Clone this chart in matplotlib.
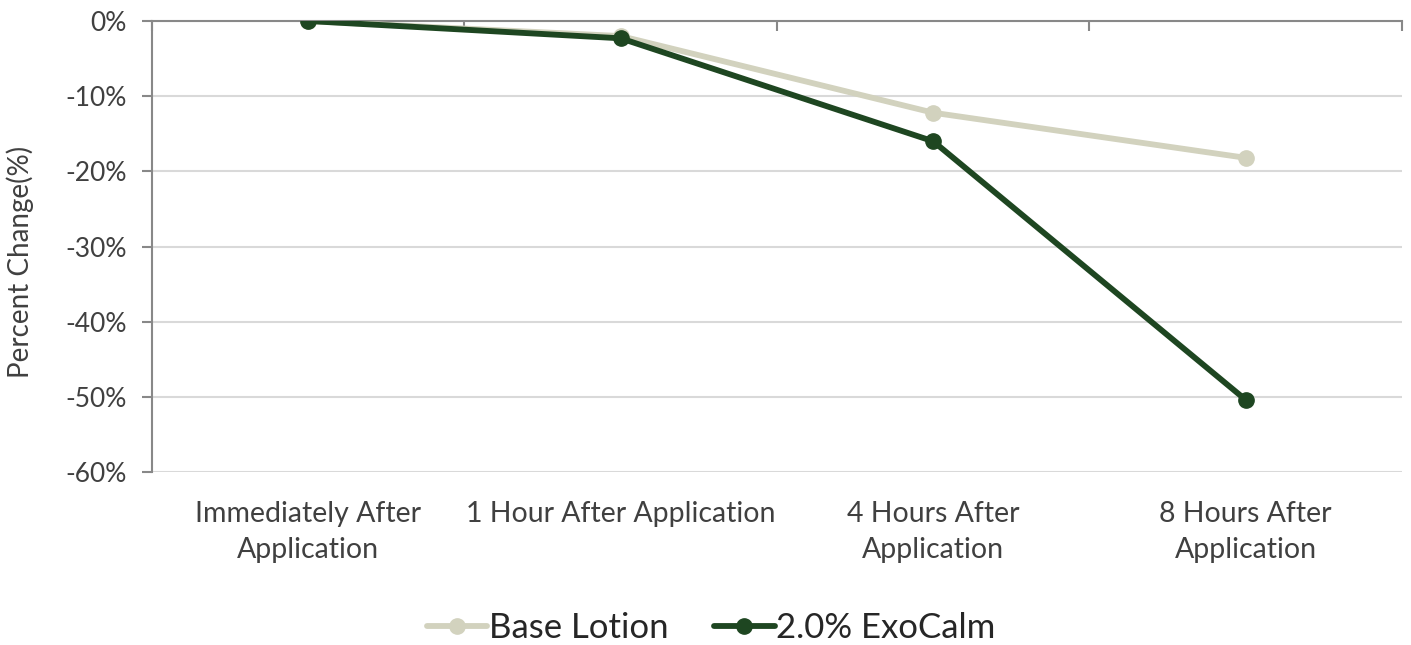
import matplotlib.pyplot as plt
from matplotlib.ticker import FixedLocator, FuncFormatter

plt.rcParams['font.family'] = ['Lato', 'DejaVu Sans']

# data
categories = ['Immediately After\nApplication', '1 Hour After Application',
              '4 Hours After\nApplication', '8 Hours After\nApplication']
base_lotion = [0.0, -2.0, -12.2, -18.2]
exocalm = [0.0, -2.3, -16.0, -50.4]

x = list(range(len(categories)))

fig = plt.figure(figsize=(14.11, 6.45), dpi=100)
ax = fig.add_axes([0.1077, 0.2682, 0.8859, 0.6992])

ax.plot(x, base_lotion, color='#D2D2BE', linewidth=4.2, marker='o', markersize=11,
        label='Base Lotion', solid_capstyle='round', zorder=3)
ax.plot(x, exocalm, color='#1E4621', linewidth=4.2, marker='o', markersize=11,
        label='2.0% ExoCalm', solid_capstyle='round', zorder=4)

ax.set_xlim(-0.5, 3.5)
ax.set_ylim(-60, 0)
ax.set_yticks(range(-60, 1, 10))
ax.yaxis.set_major_formatter(FuncFormatter(lambda v, p: '{:.0f}%'.format(v)))
ax.grid(axis='y', color='#D9D9D9', linewidth=1.5)
ax.set_axisbelow(True)

# spines
for s in ['right', 'bottom']:
    ax.spines[s].set_visible(False)
ax.spines['top'].set_color('#888888')
ax.spines['top'].set_linewidth(1.5)
ax.spines['left'].set_color('#888888')
ax.spines['left'].set_linewidth(1.5)

# category labels at bottom, boundary ticks at top
ax.set_xticks(x)
ax.set_xticklabels(categories, linespacing=1.45)
ax.tick_params(axis='x', which='major', length=0, pad=21, labelsize=20.5, labelcolor='#404040')
ax.xaxis.set_minor_locator(FixedLocator([-0.5, 0.5, 1.5, 2.5, 3.5]))
ax.tick_params(axis='x', which='minor', top=True, bottom=False, direction='in',
               length=7, width=1.5, color='#888888')
ax.tick_params(axis='y', length=7, width=1.5, color='#888888', labelsize=19,
               labelcolor='#404040', pad=11)

fig.text(20 / 1411, 0.594, 'Percent Change(%)', rotation=90, ha='center', va='center',
         fontsize=20, color='#404040')

fig.legend(*ax.get_legend_handles_labels(), loc='center', bbox_to_anchor=(0.504, 0.026),
           ncol=2, frameon=False, prop={'size': 25}, handlelength=1.75,
           columnspacing=1.3, handletextpad=0.05, labelcolor='#262626')

fig.savefig('out.png', dpi=100)
